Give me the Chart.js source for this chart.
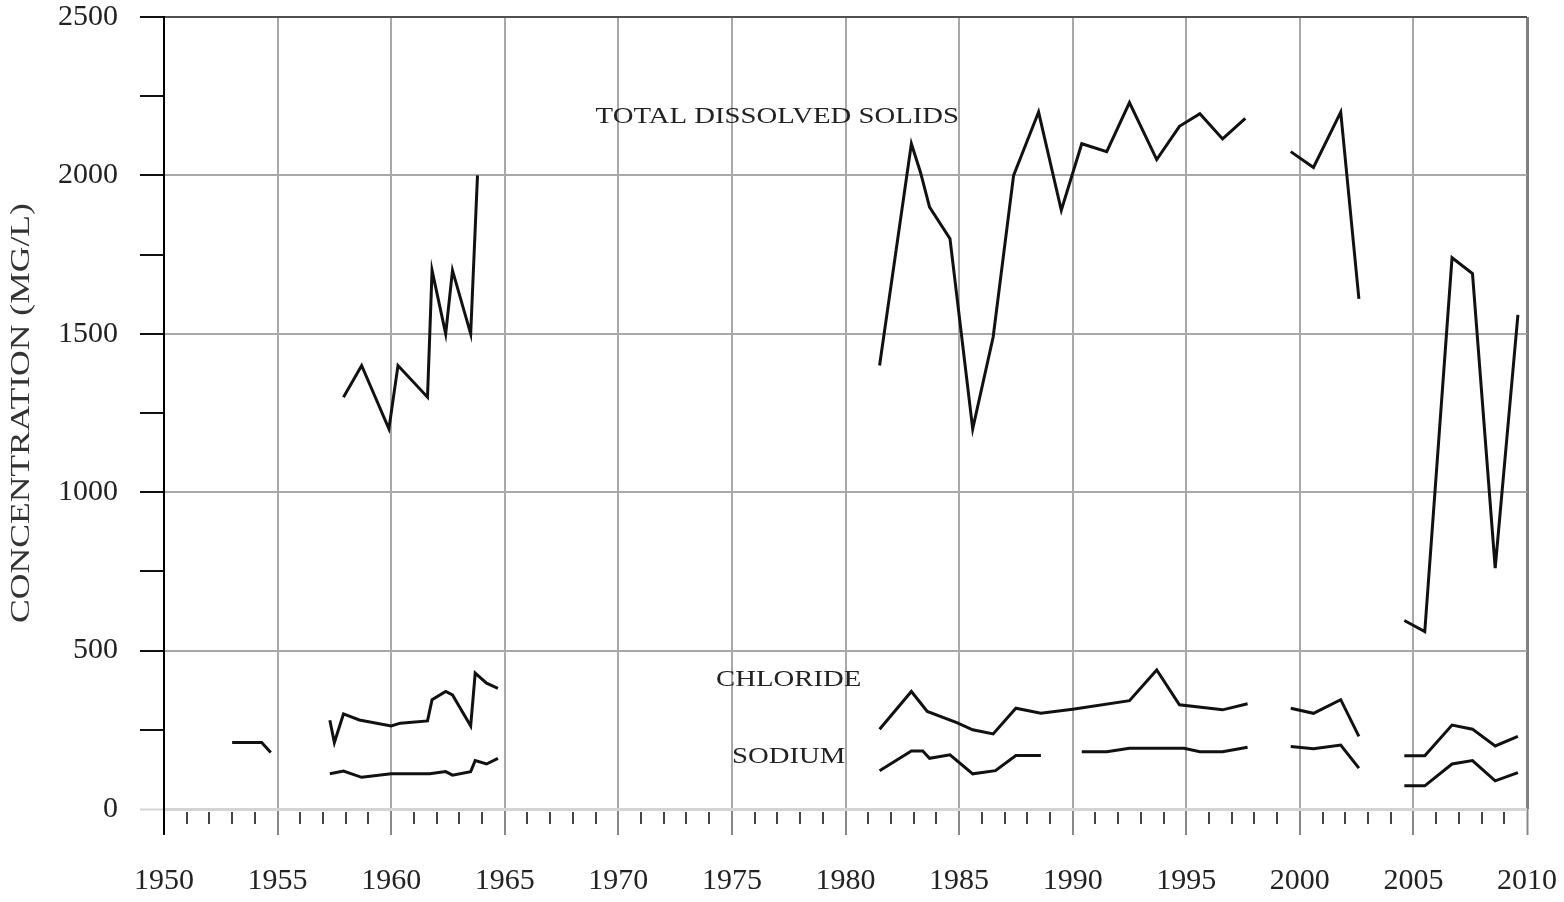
<!DOCTYPE html>
<html>
<head>
<meta charset="utf-8">
<script src="https://cdn.jsdelivr.net/npm/chart.js"></script>
<style>
  html, body { margin: 0; padding: 0; background: #fff; }
  canvas { display: block; }
</style>
</head>
<body>
<canvas id="chart" width="1564" height="902"></canvas>
<script>
// values; null marks a break in the record
const tdsYears = [1957.9, 1958.7, 1959.9, 1960.3, 1961.6, 1961.8, 1962.4, 1962.7, 1963.5, 1963.8, 1970,
  1981.5, 1982.9, 1983.3, 1983.7, 1984.6, 1985.6, 1986.5, 1987.4, 1988.5, 1989.5, 1990.4, 1991.5,
  1992.5, 1993.7, 1994.7, 1995.6, 1996.6, 1997.6, 1998.5,
  1999.6, 2000.6, 2001.8, 2002.6, 2003.5,
  2004.6, 2005.5, 2006.7, 2007.6, 2008.6, 2009.6]
const tdsValues = [1300, 1400, 1200, 1400, 1300, 1700, 1500, 1700, 1500, 2000, null,
  1400, 2100, 2010, 1900, 1800, 1200, 1490, 2000, 2200, 1890, 2100, 2075,
  2230, 2050, 2155, 2195, 2115, 2180, null,
  2075, 2025, 2200, 1610, null,
  595, 560, 1740, 1690, 760, 1560]

const chlorideYears = [1953.0, 1954.3, 1954.7, 1956,
  1957.3, 1957.5, 1957.9, 1958.6, 1960.0, 1960.4, 1961.6, 1961.8, 1962.4, 1962.7, 1963.5, 1963.7, 1964.2, 1964.7, 1970,
  1981.5, 1982.9, 1983.6, 1984.9, 1985.6, 1986.5, 1987.5, 1988.6, 1990.0, 1992.5, 1993.7, 1994.7, 1996.6, 1997.7, 1998.5,
  1999.6, 2000.6, 2001.8, 2002.6, 2003.5,
  2004.6, 2005.5, 2006.7, 2007.6, 2008.6, 2009.6]
const chlorideValues = [210, 210, 178, null,
  280, 210, 300, 281, 262, 271, 278, 345, 371, 360, 262, 429, 397, 381, null,
  252, 371, 308, 273, 250, 237, 318, 302, 315, 342, 439, 329, 313, 332, null,
  318, 302, 345, 229, null,
  168, 168, 265, 252, 199, 229]

const sodiumYears = [1957.3, 1957.9, 1958.7, 1960.0, 1961.7, 1962.4, 1962.7, 1963.5, 1963.7, 1964.2, 1964.7, 1970,
  1981.5, 1982.9, 1983.4, 1983.7, 1984.6, 1985.6, 1986.6, 1987.5, 1988.6, 1989.5,
  1990.4, 1991.5, 1992.5, 1994.9, 1995.6, 1996.6, 1997.7, 1998.5,
  1999.6, 2000.6, 2001.8, 2002.6, 2003.5,
  2004.6, 2005.5, 2006.7, 2007.6, 2008.6, 2009.6]
const sodiumValues = [111, 120, 100, 111, 111, 118, 107, 118, 153, 142, 160, null,
  121, 183, 183, 160, 171, 111, 121, 169, 169, null,
  181, 181, 192, 192, 181, 181, 195, null,
  197, 190, 202, 129, null,
  73, 73, 142, 153, 89, 115]

const xLabelYears = [1950, 1955, 1960, 1965, 1970, 1975, 1980, 1985, 1990, 1995, 2000, 2005, 2010]
const yLabelValues = [0, 500, 1000, 1500, 2000, 2500]

const curveLabels = ['TOTAL DISSOLVED SOLIDS', 'CHLORIDE', 'SODIUM']
const curveLabelYears = [1977.0, 1977.5, 1977.5]
const curveLabelValues = [2184, 408, 164]

const serif = '"Liberation Serif", "Times New Roman", serif'

const toPoints = (xs, ys) => xs.map((x, i) => ({ x: x, y: ys[i] }))

const lineStyle = {
  borderColor: '#111',
  borderWidth: 3,
  pointRadius: 0,
  tension: 0,
  spanGaps: false,
  fill: false
}

// writes the curve names and the stretched axis title
const textPlugin = {
  id: 'textPlugin',
  afterDatasetsDraw(chart) {
    const { ctx, chartArea } = chart
    const x = chart.scales.x
    const y = chart.scales.y
    ctx.save()
    ctx.fillStyle = '#222'
    ctx.textAlign = 'center'
    ctx.textBaseline = 'middle'
    ctx.font = `23px ${serif}`
    curveLabels.forEach((text, i) => {
      ctx.save()
      ctx.translate(x.getPixelForValue(curveLabelYears[i]), y.getPixelForValue(curveLabelValues[i]))
      ctx.scale(1.25, 1)
      ctx.fillText(text, 0, 0)
      ctx.restore()
    })
    ctx.translate(22, (chartArea.top + chartArea.bottom) / 2)
    ctx.rotate(-Math.PI / 2)
    ctx.scale(1.27, 1)
    ctx.font = `28px ${serif}`
    ctx.fillStyle = '#333'
    ctx.fillText('CONCENTRATION (MG/L)', 0, 0)
    ctx.restore()
  }
}

new Chart(document.getElementById('chart'), {
  type: 'line',
  data: {
    datasets: [
      { label: 'Total dissolved solids', data: toPoints(tdsYears, tdsValues), ...lineStyle },
      { label: 'Chloride', data: toPoints(chlorideYears, chlorideValues), ...lineStyle },
      { label: 'Sodium', data: toPoints(sodiumYears, sodiumValues), ...lineStyle }
    ]
  },
  options: {
    responsive: false,
    animation: false,
    layout: { padding: { top: 17, right: 37, left: 0, bottom: 0 } },
    plugins: {
      legend: { display: false },
      tooltip: { enabled: false }
    },
    scales: {
      x: {
        type: 'linear',
        min: 1950,
        max: 2010,
        afterFit: (scale) => {
          scale.height = 93
          scale.paddingLeft = 0
          scale.paddingRight = 0
        },
        border: { display: false },
        grid: {
          color: (c) => {
            if (c.tick.value === 1950) return 'transparent'
            if (c.tick.value === 2010) return '#808080'
            return c.tick.value % 5 === 0 ? '#a8a8a8' : 'transparent'
          },
          lineWidth: (c) => c.tick.value === 2010 ? 3 : 2,
          tickLength: 26,
          tickColor: (c) => {
            if (c.tick.value === 1950) return '#000'
            return c.tick.value % 5 === 0 ? '#888' : '#444'
          },
          tickWidth: 2,
          tickBorderDash: (c) => c.tick.value % 5 === 0 ? [] : [0, 3, 12, 40]
        },
        ticks: {
          stepSize: 1,
          autoSkip: false,
          maxRotation: 0,
          padding: 28,
          color: '#222',
          font: { family: serif, size: 30 },
          callback: (v) => xLabelYears.includes(v) ? String(v) : ''
        }
      },
      y: {
        min: 0,
        max: 2500,
        afterFit: (scale) => {
          scale.width = 164
          scale.paddingTop = 0
          scale.paddingBottom = 0
        },
        border: { color: '#000', width: 2 },
        grid: {
          color: (c) => {
            if (c.tick.value === 2500) return '#505050'
            if (c.tick.value === 0) return '#d4d4d4'
            return c.tick.value % 500 === 0 ? '#a8a8a8' : 'transparent'
          },
          lineWidth: (c) => c.tick.value === 0 ? 3 : 2,
          tickLength: 24,
          tickColor: (c) => c.tick.value === 0 ? '#d4d4d4' : '#111',
          tickWidth: 2
        },
        ticks: {
          stepSize: 250,
          padding: 22,
          color: '#222',
          font: { family: serif, size: 30 },
          callback: (v) => yLabelValues.includes(v) ? String(v) : ''
        }
      }
    }
  },
  plugins: [textPlugin]
})
</script>
</body>
</html>
